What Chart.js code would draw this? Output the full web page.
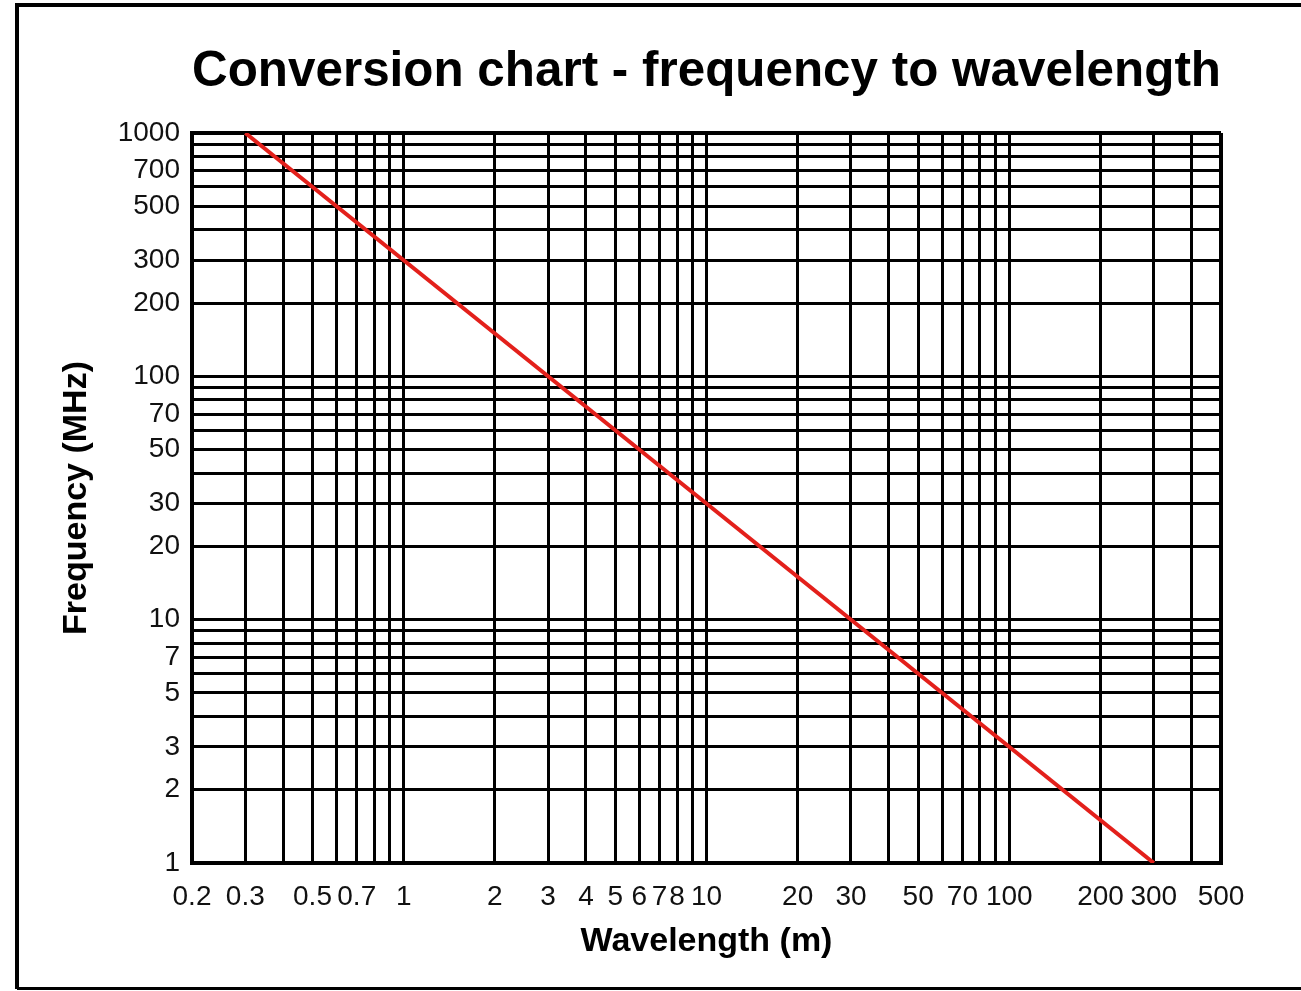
<!DOCTYPE html>
<html>
<head>
<meta charset="utf-8">
<title>Conversion chart</title>
<script src="https://cdn.jsdelivr.net/npm/chart.js@4.4.1/dist/chart.umd.min.js"></script>
<style>
  html, body { margin: 0; padding: 0; background: #fff; }
  #wrap { position: relative; width: 1301px; height: 991px; }
</style>
</head>
<body>
<div id="wrap"><canvas id="convChart"></canvas></div>
<script>
// Dữ liệu: đường chuyển đổi lambda = 300 / f
const wavelength = [0.3, 300];
const frequency = [1000, 1];

// Các đường lưới (trục log)
const xGridValues = [0.2, 0.3, 0.4, 0.5, 0.6, 0.7, 0.8, 0.9, 1, 2, 3, 4, 5, 6, 7, 8, 9, 10,
    20, 30, 40, 50, 60, 70, 80, 90, 100, 200, 300, 400, 500];
const yGridValues = [1, 2, 3, 4, 5, 6, 7, 8, 9, 10, 20, 30, 40, 50, 60, 70, 80, 90,
    100, 200, 300, 400, 500, 600, 700, 800, 900, 1000];

// Nhãn hiển thị
const xTickLabels = [0.2, 0.3, 0.5, 0.7, 1, 2, 3, 4, 5, 6, 7, 8, 10, 20, 30, 50, 70, 100, 200, 300, 500];
const yTickLabels = [1, 2, 3, 5, 7, 10, 20, 30, 50, 70, 100, 200, 300, 500, 700, 1000];

const FONT = "'Liberation Sans', Arial, Helvetica, sans-serif";

// Khung viền ngoài của ảnh
const framePlugin = {
    id: 'frame',
    afterDraw(chart) {
        const c = chart.ctx;
        c.save();
        c.strokeStyle = '#000';
        c.lineWidth = 4;
        c.beginPath();
        c.moveTo(17, 989);
        c.lineTo(17, 5);
        c.lineTo(1301, 5);
        c.stroke();
        c.lineWidth = 3;
        c.beginPath();
        c.moveTo(17, 988.5);
        c.lineTo(1301, 988.5);
        c.stroke();
        c.restore();
    }
};

function logAxis(gridValues, labels, min, max, titleText, isX) {
    return {
        type: 'logarithmic',
        min: min,
        max: max,
        afterBuildTicks: scale => {
            scale.ticks = gridValues.map(v => ({ value: v }));
        },
        afterFit: scale => {
            if (isX) scale.height = 128;
            else scale.width = 192;
        },
        grid: {
            color: '#000',
            lineWidth: ctx => (ctx.tick && (ctx.tick.value === max)) ? 4 : 3,
            drawTicks: false
        },
        border: { display: true, color: '#000', width: 4 },
        ticks: {
            autoSkip: false,
            maxRotation: 0,
            minRotation: 0,
            padding: isX ? 17 : 12,
            color: '#111',
            font: { family: FONT, size: 28 },
            callback: value => labels.includes(value) ? String(value) : ''
        },
        title: {
            display: true,
            text: titleText,
            color: '#000',
            font: { family: FONT, size: 34, weight: 'bold' },
            padding: isX ? { top: 0, bottom: 29 } : { top: 56, bottom: 0 }
        }
    };
}

new Chart(document.getElementById('convChart'), {
    type: 'line',
    data: {
        datasets: [{
            label: 'Frequency',
            data: wavelength.map((w, i) => ({ x: w, y: frequency[i] })),
            borderColor: '#e3201b',
            borderWidth: 4,
            pointRadius: 0,
            fill: false,
            tension: 0
        }]
    },
    plugins: [framePlugin],
    options: {
        responsive: true,
        maintainAspectRatio: false,
        animation: false,
        layout: { padding: { left: 0, right: 80, top: 0, bottom: 0 } },
        plugins: {
            legend: { display: false },
            tooltip: { enabled: false },
            title: {
                display: true,
                fullSize: false,
                text: 'Conversion chart - frequency to wavelength',
                color: '#000',
                font: { family: FONT, size: 50, weight: 'bold' },
                padding: { top: 42, bottom: 31 }
            }
        },
        scales: {
            x: logAxis(xGridValues, xTickLabels, 0.2, 500, 'Wavelength (m)', true),
            y: logAxis(yGridValues, yTickLabels, 1, 1000, 'Frequency (MHz)', false)
        }
    }
});
</script>
</body>
</html>
